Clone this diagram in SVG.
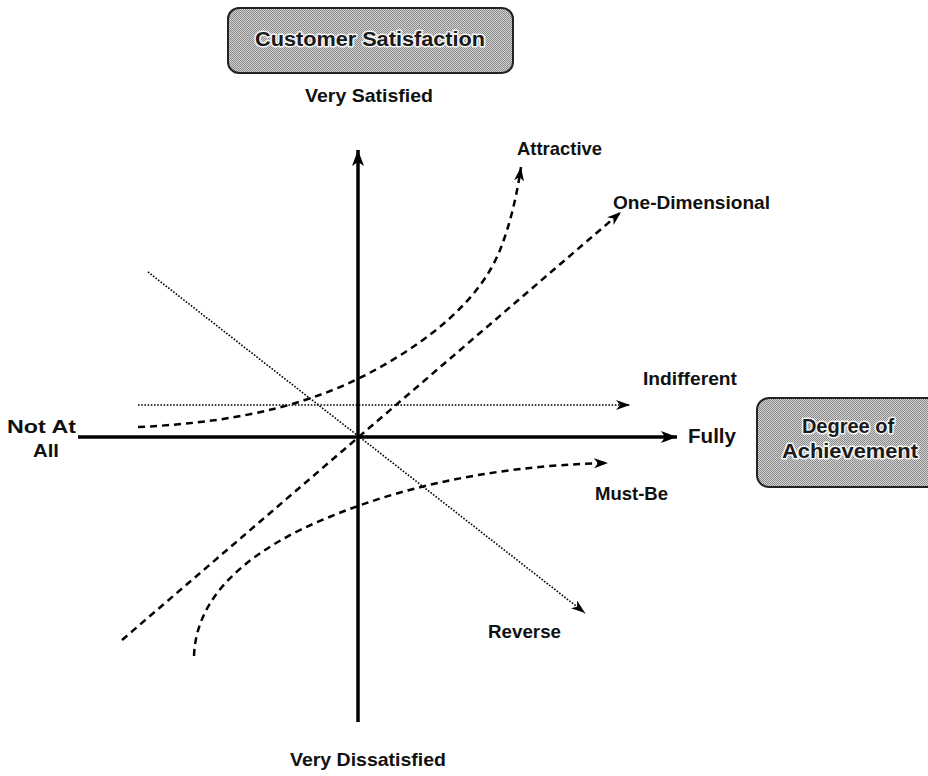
<svg xmlns="http://www.w3.org/2000/svg" width="928" height="776" viewBox="0 0 928 776">
<defs>
<pattern id="dither" width="2" height="2" patternUnits="userSpaceOnUse">
<rect width="2" height="2" fill="#d2d2d2"/>
<rect width="1" height="1" fill="#8a8a8a"/>
<rect x="1" y="1" width="1" height="1" fill="#8a8a8a"/>
</pattern>
<marker id="arrowBig" viewBox="0 0 16 12" refX="16" refY="6" markerWidth="16" markerHeight="12" markerUnits="userSpaceOnUse" orient="auto">
<path d="M0,0 L16,6 L0,12 L4,6 z" fill="#000"/>
</marker>
<marker id="arrow" viewBox="0 0 14 10" refX="14" refY="5" markerWidth="14" markerHeight="10" markerUnits="userSpaceOnUse" orient="auto">
<path d="M0,0 L14,5 L0,10 L4,5 z" fill="#000"/>
</marker>
</defs>
<style>
.lbl{font-family:"Liberation Sans",Arial,sans-serif;font-weight:bold;font-size:19px;fill:#111}
.box{fill:url(#dither);stroke:#222;stroke-width:2}
.boxtxt{font-family:"Liberation Sans",Arial,sans-serif;font-weight:bold;font-size:20px;fill:#1a1a1a;stroke:#f4f4f4;stroke-width:3;paint-order:stroke;stroke-linejoin:round}
.axis{stroke:#000;stroke-width:3.5;fill:none}
.dash{stroke:#000;stroke-width:2.5;fill:none;stroke-dasharray:7 5}
.dot{stroke:#000;stroke-width:1.6;fill:none;stroke-dasharray:1.6 1.6}
</style>

<g id="customer-satisfaction">
<rect class="box" x="228" y="8" width="285" height="65" rx="11"/>
<text class="boxtxt" x="370" y="46" text-anchor="middle" textLength="230" lengthAdjust="spacingAndGlyphs">Customer Satisfaction</text>
</g>
<g id="degree-of-achievement">
<rect class="box" x="757" y="398" width="190" height="89" rx="12"/>
<text class="boxtxt" x="848" y="433" text-anchor="middle">Degree of</text>
<text class="boxtxt" x="850" y="458" text-anchor="middle" textLength="136" lengthAdjust="spacingAndGlyphs">Achievement</text>
</g>

<g id="labels">
<text class="lbl" x="369" y="102" text-anchor="middle" textLength="128" lengthAdjust="spacingAndGlyphs">Very Satisfied</text>
<text class="lbl" x="368" y="766" text-anchor="middle" textLength="156" lengthAdjust="spacingAndGlyphs">Very Dissatisfied</text>
<text class="lbl" x="7" y="433" textLength="69" lengthAdjust="spacingAndGlyphs">Not At</text>
<text class="lbl" x="33" y="457" textLength="26" lengthAdjust="spacingAndGlyphs">All</text>
<text class="lbl" x="688" y="443" style="font-size:20px" textLength="48" lengthAdjust="spacingAndGlyphs">Fully</text>
<text class="lbl" x="517" y="155" textLength="85" lengthAdjust="spacingAndGlyphs">Attractive</text>
<text class="lbl" x="613" y="209" textLength="157" lengthAdjust="spacingAndGlyphs">One-Dimensional</text>
<text class="lbl" x="643" y="385" textLength="94" lengthAdjust="spacingAndGlyphs">Indifferent</text>
<text class="lbl" x="595" y="500" textLength="73" lengthAdjust="spacingAndGlyphs">Must-Be</text>
<text class="lbl" x="488" y="638" textLength="73" lengthAdjust="spacingAndGlyphs">Reverse</text>
</g>

<g id="connectors">
<line class="axis" x1="358" y1="722" x2="358" y2="150" marker-end="url(#arrowBig)"/>
<line class="axis" x1="78" y1="437" x2="677" y2="437" marker-end="url(#arrowBig)"/>
<line class="dot" x1="138" y1="405" x2="630" y2="405" marker-end="url(#arrow)"/>
<line class="dot" x1="148" y1="272" x2="585" y2="613" marker-end="url(#arrow)"/>
<line class="dash" x1="122" y1="640" x2="621" y2="212" marker-end="url(#arrow)"/>
<path class="dash" d="M138,427 C250,422 320,400 375,370 C430,340 480,300 500,250 C510,225 517,195 521,167" marker-end="url(#arrow)"/>
<path class="dash" d="M194,656 C196,600 240,560 300,530 C380,492 480,466 608,463" marker-end="url(#arrow)"/>
</g>
</svg>
